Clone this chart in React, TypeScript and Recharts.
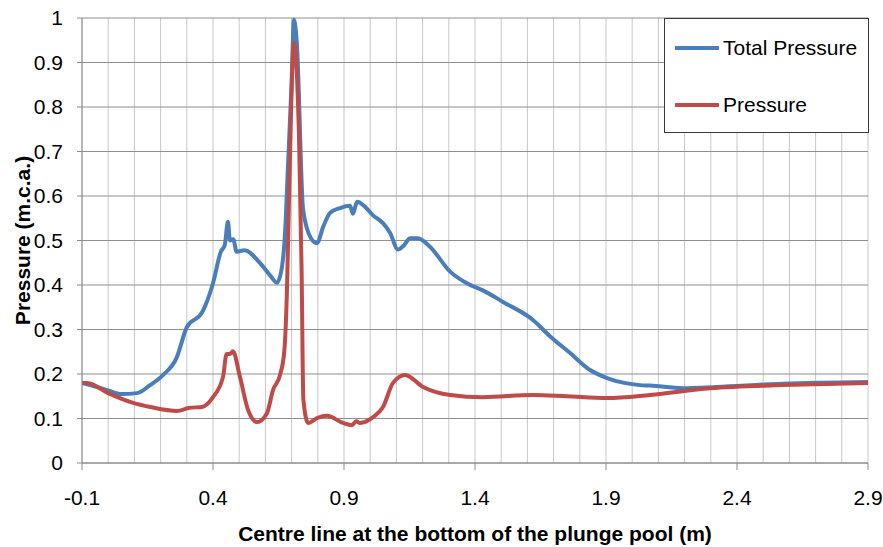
import { LineChart, Line, XAxis, YAxis, CartesianGrid, Legend } from 'recharts'

// distance along the centre line (m) and pressures (m.c.a.)
const totalX = [-0.1, -0.05, 0.0, 0.05, 0.11, 0.16, 0.21, 0.26, 0.3, 0.36, 0.4, 0.43, 0.445, 0.457, 0.465, 0.477, 0.49, 0.52, 0.58, 0.62, 0.644, 0.663, 0.675, 0.686, 0.7, 0.709, 0.72, 0.744, 0.774, 0.797, 0.82, 0.847, 0.885, 0.923, 0.934, 0.95, 0.98, 1.01, 1.049, 1.076, 1.106, 1.13, 1.152, 1.182, 1.228, 1.305, 1.369, 1.43, 1.507, 1.62, 1.686, 1.763, 1.839, 1.904, 1.97, 2.03, 2.068, 2.194, 2.324, 2.575, 2.9]
const totalY = [0.18, 0.172, 0.163, 0.155, 0.157, 0.175, 0.198, 0.235, 0.305, 0.34, 0.404, 0.475, 0.49, 0.542, 0.5, 0.503, 0.475, 0.478, 0.449, 0.42, 0.405, 0.44, 0.517, 0.665, 0.854, 0.996, 0.944, 0.569, 0.505, 0.494, 0.53, 0.562, 0.573, 0.578, 0.56, 0.587, 0.576, 0.557, 0.539, 0.517, 0.48, 0.49, 0.505, 0.505, 0.486, 0.43, 0.404, 0.388, 0.362, 0.322, 0.285, 0.247, 0.209, 0.191, 0.18, 0.175, 0.174, 0.168, 0.171, 0.178, 0.182]

const pressX = [-0.1, -0.08, 0.0, 0.095, 0.16, 0.263, 0.31, 0.358, 0.4, 0.438, 0.452, 0.465, 0.476, 0.503, 0.534, 0.568, 0.606, 0.629, 0.656, 0.672, 0.683, 0.69, 0.709, 0.728, 0.738, 0.745, 0.763, 0.797, 0.835, 0.896, 0.931, 0.946, 0.961, 1.011, 1.049, 1.087, 1.133, 1.202, 1.305, 1.43, 1.621, 1.75, 1.904, 2.068, 2.297, 2.575, 2.9]
const pressY = [0.18, 0.18, 0.157, 0.135, 0.126, 0.117, 0.124, 0.126, 0.148, 0.193, 0.245, 0.245, 0.251, 0.193, 0.119, 0.092, 0.112, 0.164, 0.198, 0.25, 0.404, 0.59, 0.944, 0.74, 0.44, 0.142, 0.09, 0.101, 0.106, 0.09, 0.085, 0.094, 0.09, 0.103, 0.126, 0.18, 0.198, 0.171, 0.153, 0.148, 0.153, 0.15, 0.146, 0.153, 0.168, 0.175, 0.18]

const seriesNames = ['Total Pressure', 'Pressure']
const xTicks = [-0.1, 0.4, 0.9, 1.4, 1.9, 2.4, 2.9]
const xGrid = [-0.1, 0, 0.1, 0.2, 0.3, 0.4, 0.5, 0.6, 0.7, 0.8, 0.9, 1.0, 1.1, 1.2, 1.3, 1.4, 1.5, 1.6, 1.7, 1.8, 1.9, 2.0, 2.1, 2.2, 2.3, 2.4, 2.5, 2.6, 2.7, 2.8, 2.9]
const yTicks = [0, 0.1, 0.2, 0.3, 0.4, 0.5, 0.6, 0.7, 0.8, 0.9, 1]

const totalData = totalX.map((x, i) => ({ x, y: totalY[i] }))
const pressData = pressX.map((x, i) => ({ x, y: pressY[i] }))

const FONT = '"Liberation Sans", Arial, sans-serif'
const BLUE = '#4a7ebb'
const RED = '#be4b48'

function LegendBox({ payload }: any) {
  const items = (payload || [])
    .filter((p: any) => seriesNames.includes(p.value))
    .sort((a: any, b: any) => seriesNames.indexOf(a.value) - seriesNames.indexOf(b.value))
  return (
    <div style={{ background: '#fff', border: '1px solid #3a3a3a', width: 203, height: 113, position: 'relative', fontFamily: FONT }}>
      {items.map((p: any, i: number) => (
        <div key={i} style={{ position: 'absolute', left: 10, top: 16 + i * 57, display: 'flex', alignItems: 'center', height: 26 }}>
          <svg width={44} height={6} style={{ marginRight: 4 }}>
            <line x1={1} y1={3} x2={43} y2={3} stroke={p.color} strokeWidth={4} strokeLinecap="round" />
          </svg>
          <span style={{ fontSize: 21, color: '#000' }}>{p.value}</span>
        </div>
      ))}
    </div>
  )
}

export default function App() {
  return (
    <div style={{ position: 'absolute', left: 0, top: 0, width: 883, height: 547, background: '#fff' }}>
      <LineChart width={883} height={547} margin={{ top: 18, right: 15, bottom: 0, left: 0 }}>
        <CartesianGrid horizontal={false} verticalValues={xGrid} stroke="#c8c8c8" strokeWidth={1} />
        <CartesianGrid vertical={false} stroke="#8f8f8f" strokeWidth={1} />
        <XAxis
          dataKey="x" type="number" domain={[-0.1, 2.9]} ticks={xTicks} allowDataOverflow
          height={84} tickSize={7} tickMargin={20}
          stroke="#8a8a8a" tick={{ fill: '#000', fontSize: 21, fontFamily: FONT }}
          label={{
            content: ({ viewBox }: any) => (
              <text x={viewBox.x + viewBox.width / 2} y={viewBox.y + 78} textAnchor="middle"
                fontFamily={FONT} fontSize={21} fontWeight="bold" fill="#000">
                Centre line at the bottom of the plunge pool (m)
              </text>
            ),
          }}
        />
        <YAxis
          type="number" domain={[0, 1]} ticks={yTicks} width={82}
          tickSize={5} tickMargin={14} stroke="#8a8a8a"
          tick={{ fill: '#000', fontSize: 21, fontFamily: FONT }}
          label={{
            content: ({ viewBox }: any) => {
              const cx = viewBox.x + 30
              const cy = viewBox.y + viewBox.height / 2
              return (
                <text x={cx} y={cy} transform={`rotate(-90, ${cx}, ${cy})`} textAnchor="middle"
                  fontFamily={FONT} fontSize={21} fontWeight="bold" fill="#000">
                  Pressure (m.c.a.)
                </text>
              )
            },
          }}
        />
        <Legend
          layout="vertical" align="center" verticalAlign="middle"
          content={<LegendBox />}
          wrapperStyle={{ position: 'absolute', left: 664, top: 18, width: 205, height: 115 }}
        />
        <Line data={totalData} dataKey="y" name={seriesNames[0]} type="monotone" stroke={BLUE}
          strokeWidth={4} dot={false} activeDot={false} isAnimationActive={false} />
        <Line data={pressData} dataKey="y" name={seriesNames[1]} type="monotone" stroke={RED}
          strokeWidth={4} dot={false} activeDot={false} isAnimationActive={false} />
      </LineChart>
    </div>
  )
}
